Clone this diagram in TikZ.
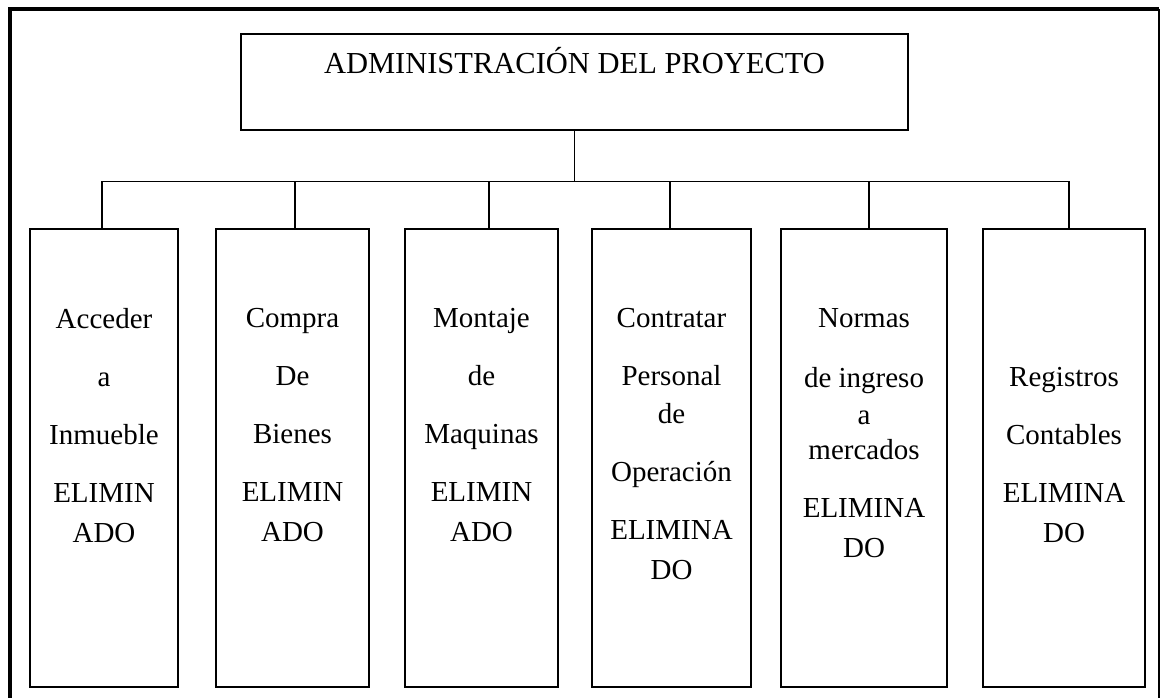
\documentclass[tikz,border=0pt]{standalone}
\usepackage{fontspec}
\setmainfont{Liberation Serif}
\usepackage{tikz}
\usetikzlibrary{positioning}

\begin{document}
\begin{tikzpicture}[x=1pt, y=-1pt,
    unitbox/.style={draw, line width=1.6pt, minimum height=458pt, inner sep=0pt, anchor=north},
    unittext/.style={align=center, anchor=north, inner sep=0pt, font=\fontsize{29}{58}\selectfont},
    conn/.style={line width=1.4pt},
]
    \useasboundingbox (0,0) rectangle (1160,698);

    % outer frame (open at the bottom)
    \draw[line width=4pt] (9.5,698) -- (9.5,9.5) -- (1159,9.5);
    \draw[line width=2pt] (1159,9.5) -- (1159,698);

    \node[draw, line width=1.6pt, anchor=north, minimum width=667pt, inner sep=0pt,
          text height=40pt, text depth=56pt, font=\fontsize{30.5}{36}\selectfont]
          (admin) at (574.5,33) {ADMINISTRACIÓN DEL PROYECTO};

    \node[unitbox, minimum width=148pt] (b1) at (104,228) {};
    \node[unitbox, minimum width=153pt] (b2) at (292.5,228) {};
    \node[unitbox, minimum width=153pt] (b3) at (481.5,228) {};
    \node[unitbox, minimum width=159pt] (b4) at (671.5,228) {};
    \node[unitbox, minimum width=166pt] (b5) at (864,228) {};
    \node[unitbox, minimum width=162pt] (b6) at (1064,228) {};

    \foreach \i/\dx in {1/-2,2/2.5,3/7.5,4/-1.5,5/5,6/5}
        \draw[conn] (admin.south) -- ++(0,51) -| ([xshift=\dx pt]b\i.north);

    % texts in the boxes
    \node[unittext] (t1) at (104,308) {Acceder\\a\\Inmueble\\ELIMIN\\[-18pt]ADO};
    \node[unittext] (t2) at (292.5,308) {Compra\\De\\Bienes\\ELIMIN\\[-18pt]ADO};
    \node[unittext] (t3) at (481.5,308) {Montaje\\de\\Maquinas\\ELIMIN\\[-18pt]ADO};
    \node[unittext] (t4) at (671.5,308) {Contratar\\Personal\\[-20pt]de\\Operación\\ELIMINA\\[-18pt]DO};
    \node[unittext] (t5) at (864,308) {Normas\\[2pt]de ingreso\\[-21pt]a\\[-23pt]mercados\\ELIMINA\\[-18pt]DO};
    \node[unittext] (t6) at (1064,367) {Registros\\Contables\\ELIMINA\\[-18pt]DO};
\end{tikzpicture}
\end{document}
